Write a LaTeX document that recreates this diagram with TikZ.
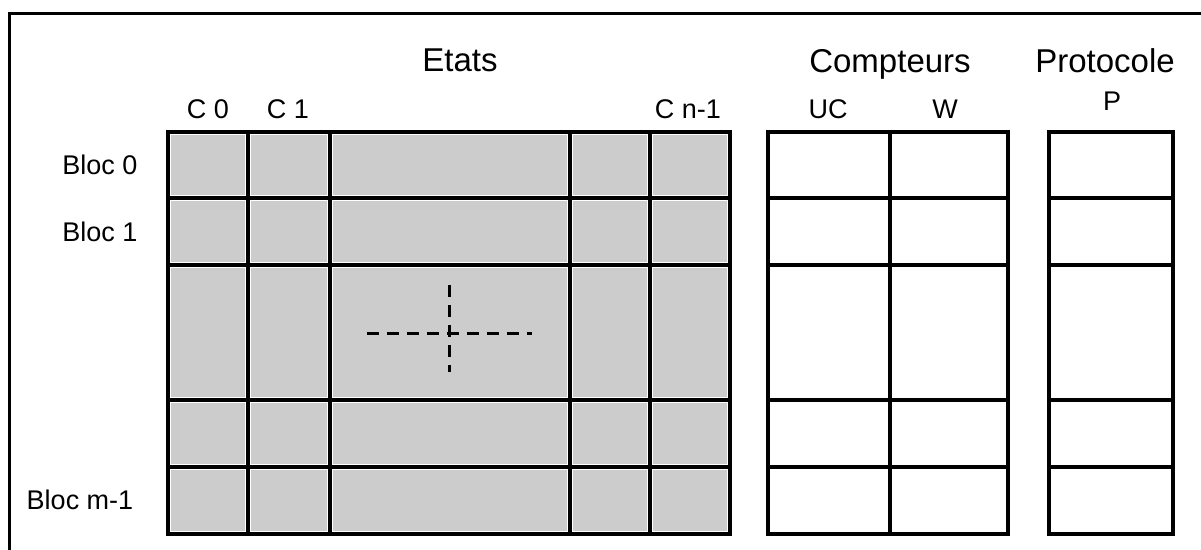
\documentclass[tikz,border=0pt]{standalone}
\usepackage{fontspec}
\setmainfont{Liberation Sans}
\begin{document}
\begin{tikzpicture}[x=1pt,y=-1pt,
  title/.style={font=\fontsize{33}{39}\selectfont, inner sep=0pt, anchor=base},
  lab/.style={font=\fontsize{27}{32}\selectfont, inner sep=0pt, anchor=base},
  grid line/.style={line width=4pt, line cap=rect},
  shade cell/.style={fill=black!20, draw=none},
  frame line/.style={line width=3pt},
  cross/.style={line width=3pt, dash pattern=on 12pt off 8pt}]
\useasboundingbox (0,0) rectangle (1201,549);
% outer frame (cut by the picture's edges)
\draw[frame line] (9,560) -- (9,13) -- (1215,13);
% shaded Etats cells
\foreach \xa/\xb in {168/248,248/330,330/570,570/650,650/730}
  \foreach \ya/\yb in {132/198,198/265,265/400,400/467,467/534}
    \fill[shade cell] (\xa+3,\ya+3) rectangle (\xb-3,\yb-3);
% Etats grid
\foreach \x in {168,248,330,570,650,730} \draw[grid line] (\x,132) -- (\x,534);
\foreach \y in {132,198,265,400,467,534} \draw[grid line] (168,\y) -- (730,\y);
% Compteurs grid
\foreach \x in {768,890,1008} \draw[grid line] (\x,132) -- (\x,534);
\foreach \y in {132,198,265,400,467,534} \draw[grid line] (768,\y) -- (1008,\y);
% Protocole grid
\foreach \x in {1049,1173} \draw[grid line] (\x,132) -- (\x,534);
\foreach \y in {132,198,265,400,467,534} \draw[grid line] (1049,\y) -- (1173,\y);
% dashed cross
\coordinate (hl) at (367,333);
\coordinate (hr) at (532,333);
\coordinate (vt) at (449,285);
\coordinate (vb) at (449,372);
\draw[cross] (hl) -- (hr);
\draw[cross] (vt) -- (vb);
% titles
\node[title] (etats) at (460,71) {Etats};
\node[title] (compteurs) at (890,72) {Compteurs};
\node[title] (protocole) at (1105,72) {Protocole};
% column labels
\node[lab] (c0) at (208,118) {C 0};
\node[lab] (c1) at (288,118) {C 1};
\node[lab] (cn) at (688,118) {C n-1};
\node[lab] (uc) at (828,118) {UC};
\node[lab] (w) at (945,118) {W};
\node[lab] (p) at (1112,110) {P};
% row labels
\node[lab] (b0) at (100,174) {Bloc 0};
\node[lab] (b1) at (100,241) {Bloc 1};
\node[lab] (bm) at (80,509) {Bloc m-1};
\end{tikzpicture}
\end{document}
